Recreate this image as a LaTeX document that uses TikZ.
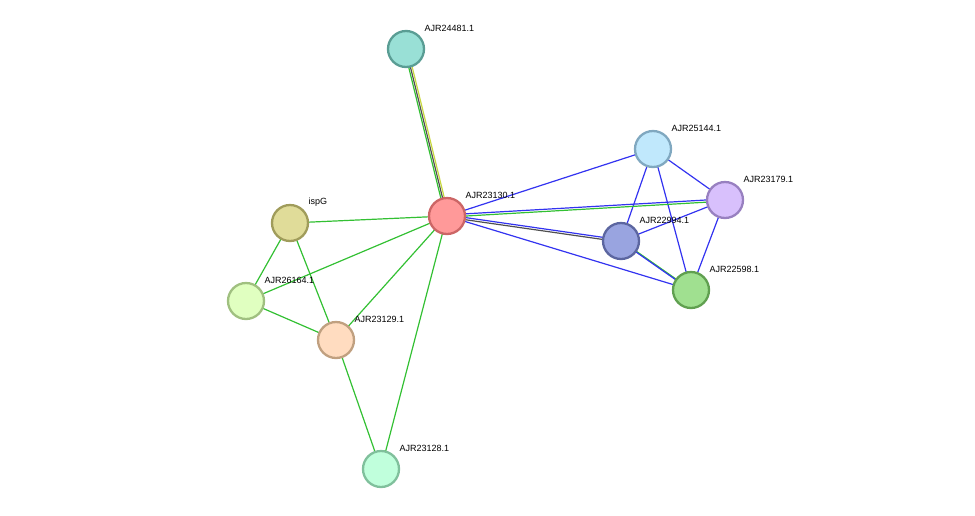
\documentclass[tikz,border=0pt]{standalone}
\usepackage{fontspec}
\setmainfont{Liberation Sans}
\usetikzlibrary{calc}

\definecolor{egreen}{HTML}{33C033}
\definecolor{eblue}{HTML}{3333F0}
\definecolor{edark}{HTML}{505050}
\definecolor{eyellow}{HTML}{C8D840}

\tikzset{
  prot/.style 2 args={circle, minimum size=36pt, inner sep=0pt, line width=2.3pt, fill=#1, draw=#2},
  lbl/.style={anchor=west, font=\fontsize{9}{10}\selectfont},
  edge/.style={line width=1.2pt}
}

\begin{document}
\begin{tikzpicture}[x=1pt,y=-1pt]
    \useasboundingbox (0,0) rectangle (975,515);
    % protein positions
    \coordinate (p24481) at (406,49);
    \coordinate (p23130) at (447,216);
    \coordinate (pispG) at (290,223);
    \coordinate (p26164) at (246,301);
    \coordinate (p23129) at (336,340);
    \coordinate (p23128) at (381,469);
    \coordinate (p25144) at (653,149);
    \coordinate (p23179) at (725,200);
    \coordinate (p22994) at (621,241);
    \coordinate (p22598) at (691,290);

    % green edges
    \foreach \a/\b in {23130/ispG, 23130/26164, 23130/23129, 23130/23128, ispG/26164,
                       ispG/23129, 26164/23129, 23129/23128}
        \draw[edge, egreen] (p\a) -- (p\b);
    % blue edges
    \foreach \a/\b in {23130/25144, 23130/22598, 25144/22994, 25144/23179, 25144/22598,
                       23179/22994, 23179/22598}
        \draw[edge, eblue] (p\a) -- (p\b);
    % multiple evidence
    \draw[edge, egreen, transform canvas={shift={(-1.9,-0.5)}}] (p24481) -- (p23130);
    \draw[edge, edark] (p24481) -- (p23130);
    \draw[edge, eyellow, transform canvas={shift={(1.9,0.5)}}] (p24481) -- (p23130);
    \draw[edge, egreen, transform canvas={shift={(0,1.1)}}] (p23130) -- (p23179);
    \draw[edge, eblue, transform canvas={shift={(0,-1.1)}}] (p23130) -- (p23179);
    \draw[edge, edark, transform canvas={shift={(0.15,1.1)}}] (p23130) -- (p22994);
    \draw[edge, eblue, transform canvas={shift={(-0.15,-1.1)}}] (p23130) -- (p22994);
    \draw[edge, egreen, transform canvas={shift={(-0.65,-0.9)}}] (p22994) -- (p22598);
    \draw[edge, eblue, transform canvas={shift={(0.65,0.9)}}] (p22994) -- (p22598);

    % proteins
    \foreach \n/\f/\d/\t in {24481/99E0D6/5A9D94/AJR24481.1, 23130/FF9999/CC6666/AJR23130.1,
                             ispG/E0DC99/A09C5B/ispG, 26164/E0FFC0/A0C080/AJR26164.1,
                             23129/FFDCC0/C0A080/AJR23129.1, 23128/C0FFDC/80C09C/AJR23128.1,
                             25144/C0E8FC/80A8C0/AJR25144.1, 23179/D8C0FC/9880C0/AJR23179.1,
                             22994/99A4E0/5C66A0/AJR22994.1, 22598/A0E090/60A050/AJR22598.1} {
        \definecolor{cf}{HTML}{\f}
        \definecolor{cd}{HTML}{\d}
        \node[prot={cf}{cd}] (n\n) at (p\n) {};
        \node[lbl] (l\n) at ($(p\n)+(15,-21)$) {\t};
    }
\end{tikzpicture}
\end{document}
